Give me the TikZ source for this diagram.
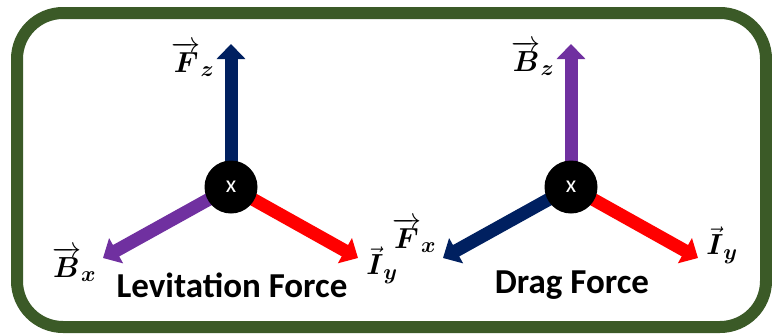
\RequirePackage{fix-cm}
\documentclass[tikz,border=0pt]{standalone}
\usepackage{amsmath}
\usepackage{fontspec}
\setsansfont{Carlito}
\usetikzlibrary{arrows.meta}
\definecolor{lfFrame}{HTML}{3B5A27}
\definecolor{lfNavy}{HTML}{002060}
\definecolor{lfPurple}{HTML}{7030A0}
\definecolor{lfRed}{HTML}{FF0000}
\newcommand{\LFsub}[1]{\text{\fontsize{22}{24}\selectfont$\boldsymbol{#1}$}}
\newcommand{\LFlong}[2]{\overrightarrow{\boldsymbol{#1}}_{\LFsub{#2}}}
\newcommand{\LFshort}[2]{\vec{\boldsymbol{#1}}_{\LFsub{#2}}}
\tikzset{lf/base/.style={x=1pt,y=1pt,line cap=butt,line join=miter,
  every node/.style={inner sep=0pt}},
  lf/frame/.style={draw=lfFrame,line width=12pt,rounded corners=46pt},
  lf/arrow/.style={-{Triangle[length=15pt,width=28pt]},line width=13pt},
  lf/hub/.style={circle,fill=black,minimum size=53pt,text=white,
    font=\sffamily\fontsize{24}{26}\selectfont},
  lf/sym/.style={font=\fontsize{29}{32}\selectfont},
  lf/title/.style={font=\sffamily\bfseries\fontsize{35}{38}\selectfont}}
\begin{document}
\begin{tikzpicture}[lf/base,y=-1pt]
  \useasboundingbox (0,0) rectangle (772,335);
  \draw[lf/frame] (17,13) rectangle (766,327);
  \foreach \cx/\id/\upcol/\leftcol/\uplab/\upy/\leftlab/\ly/\ry/\heading in {
    231/lev/lfNavy/lfPurple/{\LFlong{F}{z}}/59/{\LFlong{B}{x}}/264/265/{Levitation Force},
    571/drag/lfPurple/lfNavy/{\LFlong{B}{z}}/58/{\LFlong{F}{x}}/235/245/{Drag Force}}{
    \coordinate (\id c) at (\cx,187);
    \coordinate (\id up) at (\cx,44);
    \coordinate (\id left) at ({\cx-128},258);
    \coordinate (\id right) at ({\cx+127},258);
    \draw[lf/arrow,draw=\upcol,fill=\upcol] (\id c) -- (\id up);
    \draw[lf/arrow,draw=\leftcol,fill=\leftcol] (\id c) -- (\id left);
    \draw[lf/arrow,draw=lfRed,fill=lfRed] (\id c) -- (\id right);
    \node[lf/hub] (\id hub) at (\id c) {x};
    \node[lf/sym] (\id uplab) at ({\cx-38},\upy) {$\uplab$};
    \node[lf/sym] (\id leftlab) at ({\cx-157},\ly) {$\leftlab$};
    \node[lf/sym] (\id rightlab) at ({\cx+151},\ry) {$\LFshort{I}{y}$};
    \node[lf/title] (\id title) at ({\cx+1},285) {\heading};}
\end{tikzpicture}
\end{document}
